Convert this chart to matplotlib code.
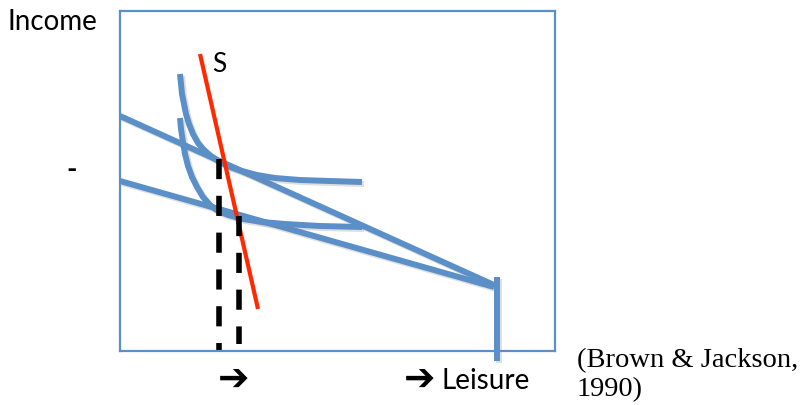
import matplotlib as mpl
mpl.use('Agg')
import matplotlib.pyplot as plt
import matplotlib.patheffects as pe

plt.rcParams['font.family'] = ['Lato', 'DejaVu Sans']
plt.rcParams['lines.scale_dashes'] = False

# leisure (x) / income (y) in the chart's own units
budget_hi_x = [0, 374]
budget_hi_y = [235, 66]
budget_lo_x = [0, 374]
budget_lo_y = [170, 64]
endow_x = [377, 377]
endow_y = [74, -10]

ic_hi_x = [60, 61, 62, 64, 66, 69, 73, 78, 84, 91, 100, 110, 122, 137, 155, 180, 210, 242]
ic_hi_y = [277, 267, 257, 247, 237, 227, 217, 208, 201, 195, 189, 184, 180, 176, 173, 171, 170, 169]
ic_lo_x = [60, 61, 63, 65, 68, 72, 77, 83, 90, 98, 108, 123, 142, 165, 200, 242]
ic_lo_y = [233, 222, 209, 197, 185, 174, 164, 154, 146, 140, 136, 132, 129, 127, 125, 124]

supply_x = [80, 138]
supply_y = [297, 42]

drop1_x = [99, 99]
drop1_y = [192, 0]
drop2_x = [119, 119]
drop2_y = [135, 7]

blue = '#5b8fc8'
red = '#ff2a00'
shadow = [pe.SimpleLineShadow(offset=(1.5, -1.5), shadow_color='gray', alpha=0.25), pe.Normal()]

fig = plt.figure(figsize=(8.06, 4.06), dpi=100)
W, H = 806, 406
ax = fig.add_axes([120 / W, (H - 352) / H, 435 / W, 340 / H])
ax.set_xlim(0, 435)
ax.set_ylim(0, 340)
ax.set_xticks([])
ax.set_yticks([])
for sp in ax.spines.values():
    sp.set_color(blue)
    sp.set_linewidth(1.6)

for xs, ys in [(budget_hi_x, budget_hi_y), (budget_lo_x, budget_lo_y),
               (ic_hi_x, ic_hi_y), (ic_lo_x, ic_lo_y)]:
    ax.plot(xs, ys, color=blue, lw=4.3, solid_capstyle='butt', solid_joinstyle='round',
            path_effects=shadow)
ax.plot(endow_x, endow_y, color=blue, lw=4.3, solid_capstyle='butt', clip_on=False,
        path_effects=shadow)

ax.plot(supply_x, supply_y, color=red, lw=3, solid_capstyle='butt')
ax.text(92, 287, 'S', fontsize=19, va='center', ha='left')

for xs, ys in [(drop1_x, drop1_y), (drop2_x, drop2_y)]:
    ax.plot(xs, ys, color='black', lw=4, dashes=(14.5, 12), clip_on=False)

fig.text(8 / W, 1 - 22 / H, 'Income', fontsize=20, va='center', ha='left')
fig.text(72 / W, 1 - 170 / H, '-', fontsize=20, va='center', ha='center', weight='bold')
fig.text(234 / W, 1 - 381 / H, '\u2794', fontsize=27, va='center', ha='center',
         family=['DejaVu Sans'], weight='bold')
fig.text(420 / W, 1 - 381 / H, '\u2794', fontsize=27, va='center', ha='center',
         family=['DejaVu Sans'], weight='bold')
fig.text(441 / W, 1 - 381 / H, 'Leisure', fontsize=20, va='center', ha='left')
fig.text(577 / W, 1 - 375 / H, '(Brown & Jackson,\n1990)', fontsize=20.5,
         va='center', ha='left', family=['Liberation Serif'], linespacing=1.2)

fig.savefig('out.png', dpi=100)
